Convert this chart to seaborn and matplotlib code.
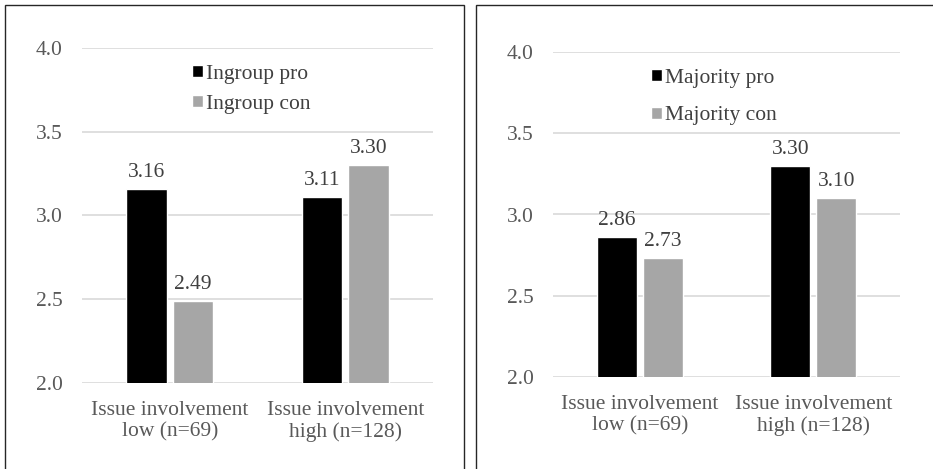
import matplotlib
matplotlib.use("Agg")
import matplotlib.pyplot as plt
import seaborn as sns
import pandas as pd
from matplotlib.patches import Rectangle

groups = ["Issue involvement\nlow (n=69)", "Issue involvement\nhigh (n=128)"]

ingroup_labels = ["Ingroup pro", "Ingroup con"]
ingroup_pro = [3.16, 3.11]
ingroup_con = [2.49, 3.30]

majority_labels = ["Majority pro", "Majority con"]
majority_pro = [2.86, 3.30]
majority_con = [2.73, 3.10]

yticks = [2.0, 2.5, 3.0, 3.5, 4.0]

sns.set_theme(style="white")
plt.rcParams["font.family"] = "serif"
plt.rcParams["font.serif"] = ["Liberation Serif", "Times New Roman", "DejaVu Serif"]

bar_colors = ["#000000", "#a6a6a6"]
tick_col = "#595959"
label_col = "#404040"


def make_df(labels, pro, con):
    rows = []
    for g, p, c in zip(groups, pro, con):
        rows.append({"group": g, "cond": labels[0], "mean": p})
        rows.append({"group": g, "cond": labels[1], "mean": c})
    return pd.DataFrame(rows)


def draw(ax, df, labels, legend_anchor, labelspacing):
    sns.barplot(data=df, x="group", y="mean", hue="cond", hue_order=labels,
                palette=bar_colors, width=0.53, gap=0.12, ax=ax,
                saturation=1, errorbar=None)
    ax.set_ylim(2.0, 4.0)
    ax.set_yticks(yticks)
    ax.set_yticklabels([f"{t:.1f}" for t in yticks])
    ax.grid(axis="y", color="#d9d9d9", linewidth=1.2)
    ax.set_axisbelow(True)
    for s in ax.spines.values():
        s.set_visible(False)
    ax.tick_params(axis="y", length=0, pad=14, labelsize=15.5, labelcolor=tick_col)
    ax.tick_params(axis="x", length=0, pad=13, labelsize=15.5, labelcolor=tick_col)
    for t in ax.get_xticklabels():
        t.set_linespacing(1.15)
    ax.set_xlabel("")
    ax.set_ylabel("")
    for cont in ax.containers:
        ax.bar_label(cont, fmt="%.2f", padding=5, fontsize=15.5, color=label_col)
    leg = ax.legend(loc="upper left", bbox_to_anchor=legend_anchor, frameon=False,
                    fontsize=15.5, handlelength=0.5, handleheight=0.5,
                    handletextpad=0.15, labelspacing=labelspacing,
                    borderaxespad=0, borderpad=0)
    for t in leg.get_texts():
        t.set_color(label_col)


fig = plt.figure(figsize=(9.33, 4.69), dpi=100)

# panel frames
fig.patches.append(Rectangle((5 / 933, -0.1), 459 / 933, (469 - 5) / 469 + 0.1,
                             transform=fig.transFigure, fill=False,
                             edgecolor="#262626", linewidth=1.0))
fig.patches.append(Rectangle((476 / 933, -0.1), 0.6, (469 - 5) / 469 + 0.1,
                             transform=fig.transFigure, fill=False,
                             edgecolor="#262626", linewidth=1.0))

ax1 = fig.add_axes([82 / 933, 86 / 469, 351 / 933, 335 / 469])
ax2 = fig.add_axes([553 / 933, 92 / 469, 347 / 933, 325 / 469])

draw(ax1, make_df(ingroup_labels, ingroup_pro, ingroup_con), ingroup_labels,
     ((192 - 82) / 351, (383 - 65) / 335), 0.5)
draw(ax2, make_df(majority_labels, majority_pro, majority_con), majority_labels,
     ((651 - 553) / 347, (377 - 69) / 325), 0.85)

fig.savefig("out.png", dpi=100)
